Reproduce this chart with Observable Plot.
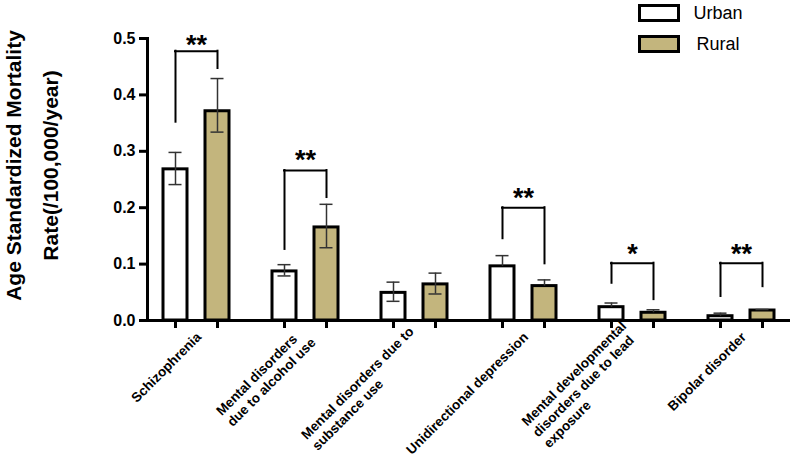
<!DOCTYPE html>
<html>
<head>
<meta charset="utf-8">
<script src="https://cdn.jsdelivr.net/npm/d3@7"></script>
<script src="https://cdn.jsdelivr.net/npm/@observablehq/plot@0.6"></script>
<style>
  html, body { margin: 0; padding: 0; background: #fff; }
  #wrap { position: relative; width: 795px; height: 467px; font-family: "Liberation Sans", Arial, sans-serif; }
  #legend { position: absolute; left: 638px; top: 4px; }
  .lg-row { display: flex; align-items: center; height: 18px; margin-bottom: 13px; }
  .lg-sw { box-sizing: border-box; width: 42px; height: 18px; border: 3px solid #000; }
  .lg-tx { width: 76px; text-align: center; font-size: 18px; line-height: 18px; color: #000; }
</style>
</head>
<body>
<div id="wrap"><div id="legend"></div></div>
<script>
const groups = [
  "Schizophrenia",
  "Mental disorders due to alcohol use",
  "Mental disorders due to substance use",
  "Unidirectional depression",
  "Mental developmental disorders due to lead exposure",
  "Bipolar disorder"
];
const groupLabels = [
  "Schizophrenia",
  "Mental disorders\ndue to alcohol use",
  "Mental disorders due to\nsubstance use",
  "Unidirectional depression",
  "Mental developmental\ndisorders due to lead\nexposure",
  "Bipolar disorder"
];
const series = ["Urban", "Rural"];
const seriesColors = ["#ffffff", "#c3b57d"];

const urbanRate  = [0.268, 0.087, 0.049, 0.096, 0.0236, 0.0076];
const urbanUpper = [0.298, 0.099, 0.068, 0.115, 0.031, 0.013];
const urbanLower = [0.241, 0.079, 0.034, null, null, null];
const ruralRate  = [0.371, 0.165, 0.064, 0.061, 0.0137, 0.0177];
const ruralUpper = [0.429, 0.206, 0.084, 0.072, 0.019, 0.0195];
const ruralLower = [0.334, 0.129, 0.047, null, null, null];

const sigLabel    = ["**", "**", "", "**", "*", "**"];
const sigTop      = [0.4775, 0.266, null, 0.200, 0.1016, 0.1016];
const sigUrbanEnd = [0.3516, 0.126, null, 0.145, 0.066, 0.0426];
const sigRuralEnd = [0.4468, 0.218, null, 0.1005, 0.037, 0.060];
const starY       = [0.487, 0.284, null, 0.217, 0.118, 0.118];

const yTicks = [0, 0.1, 0.2, 0.3, 0.4, 0.5];
const yTitle = "Age Standardized Mortality\nRate(/100,000/year)";

const rows = groups.map((g, i) => ({
  group: g, label: groupLabels[i],
  urban: urbanRate[i], urbanUpper: urbanUpper[i], urbanLower: urbanLower[i],
  rural: ruralRate[i], ruralUpper: ruralUpper[i], ruralLower: ruralLower[i],
  sig: sigLabel[i], sigTop: sigTop[i], sigUrbanEnd: sigUrbanEnd[i], sigRuralEnd: sigRuralEnd[i], starY: starY[i]
}));
const sigRows = rows.filter(d => d.sig);
const labelOf = new Map(groups.map((g, i) => [g, groupLabels[i]]));

const errStroke = "#333";
const chart = Plot.plot({
  width: 795, height: 467,
  marginLeft: 147, marginRight: 5, marginTop: 38, marginBottom: 147,
  style: { fontFamily: "Liberation Sans, Arial, sans-serif", background: "white", color: "#000", overflow: "visible" },
  x: { domain: groups, paddingInner: 0.3956, paddingOuter: 0.142 },
  y: { domain: [0, 0.5] },
  color: { domain: series, range: seriesColors },
  marks: [
    // bars
    Plot.barY(rows, { x: "group", y: "urban", fill: () => "Urban", insetRight: 42, stroke: "#000", strokeWidth: 3 }),
    Plot.barY(rows, { x: "group", y: "rural", fill: () => "Rural", insetLeft: 42, stroke: "#000", strokeWidth: 3 }),
    // error bars
    Plot.ruleX(rows, { x: "group", y1: d => d.urbanLower ?? d.urban, y2: "urbanUpper", dx: -21, stroke: errStroke, strokeWidth: 1.5 }),
    Plot.ruleX(rows, { x: "group", y1: d => d.ruralLower ?? d.rural, y2: "ruralUpper", dx: 21, stroke: errStroke, strokeWidth: 1.5 }),
    Plot.tickY(rows, { x: "group", y: "urbanUpper", insetLeft: 5.5, insetRight: 47.5, stroke: errStroke, strokeWidth: 1.5 }),
    Plot.tickY(rows, { x: "group", y: "ruralUpper", insetLeft: 47.5, insetRight: 5.5, stroke: errStroke, strokeWidth: 1.5 }),
    Plot.tickY(rows.filter(d => d.urbanLower != null), { x: "group", y: "urbanLower", insetLeft: 5.5, insetRight: 47.5, stroke: errStroke, strokeWidth: 1.5 }),
    Plot.tickY(rows.filter(d => d.ruralLower != null), { x: "group", y: "ruralLower", insetLeft: 47.5, insetRight: 5.5, stroke: errStroke, strokeWidth: 1.5 }),
    // significance brackets
    Plot.ruleX(sigRows, { x: "group", y1: "sigUrbanEnd", y2: "sigTop", dx: -21, stroke: "#000", strokeWidth: 2, strokeLinecap: "square" }),
    Plot.ruleX(sigRows, { x: "group", y1: "sigRuralEnd", y2: "sigTop", dx: 21, stroke: "#000", strokeWidth: 2, strokeLinecap: "square" }),
    Plot.tickY(sigRows, { x: "group", y: "sigTop", insetLeft: 12, insetRight: 12, stroke: "#000", strokeWidth: 2, strokeLinecap: "square" }),
    Plot.text(sigRows, { x: "group", y: "starY", text: "sig", fontSize: 27, fontWeight: "bold", fill: "#000" }),
    // axes
    Plot.ruleY([0], { stroke: "#000", strokeWidth: 3 }),
    Plot.frame({ anchor: "left", stroke: "#000", strokeWidth: 3 }),
    Plot.axisY({ ticks: yTicks, tickFormat: ".1f", tickSize: 8, tickPadding: 4, strokeWidth: 3, fontSize: 16, fontWeight: "bold", label: null }),
    Plot.axisX({ tickSize: 8, strokeWidth: 3, dx: -21, tickFormat: () => "", label: null }),
    Plot.axisX({ tickSize: 8, strokeWidth: 3, dx: 21, tickFormat: () => "", label: null }),
    Plot.axisX({ tickSize: 0, tickPadding: 14, tickRotate: -45, dx: 2, tickFormat: g => labelOf.get(g), fontSize: 13.5, fontWeight: "bold", lineHeight: 1.15, label: null }),
    // y title
    Plot.text([yTitle], { text: d => d, frameAnchor: "left", textAnchor: "middle", rotate: -90, dx: -120, dy: -14, fontSize: 21, fontWeight: "bold", lineHeight: 1.76, fill: "#000" })
  ]
});
document.getElementById("wrap").prepend(chart);

// multi-line category labels: lines left-aligned, block right-aligned at the tick
chart.querySelectorAll('g[aria-label="x-axis tick label"] text').forEach(t => {
  const spans = t.querySelectorAll("tspan");
  if (spans.length < 2) return;
  let maxW = 0;
  spans.forEach(s => { maxW = Math.max(maxW, s.getComputedTextLength()); });
  t.setAttribute("text-anchor", "start");
  spans.forEach(s => s.setAttribute("x", -maxW));
});

const color = chart.scale("color");
const legend = document.getElementById("legend");
series.forEach(s => {
  const row = document.createElement("div");
  row.className = "lg-row";
  const sw = document.createElement("div");
  sw.className = "lg-sw";
  sw.style.background = color.apply(s);
  const tx = document.createElement("div");
  tx.className = "lg-tx";
  tx.textContent = s;
  row.append(sw, tx);
  legend.append(row);
});
</script>
</body>
</html>
